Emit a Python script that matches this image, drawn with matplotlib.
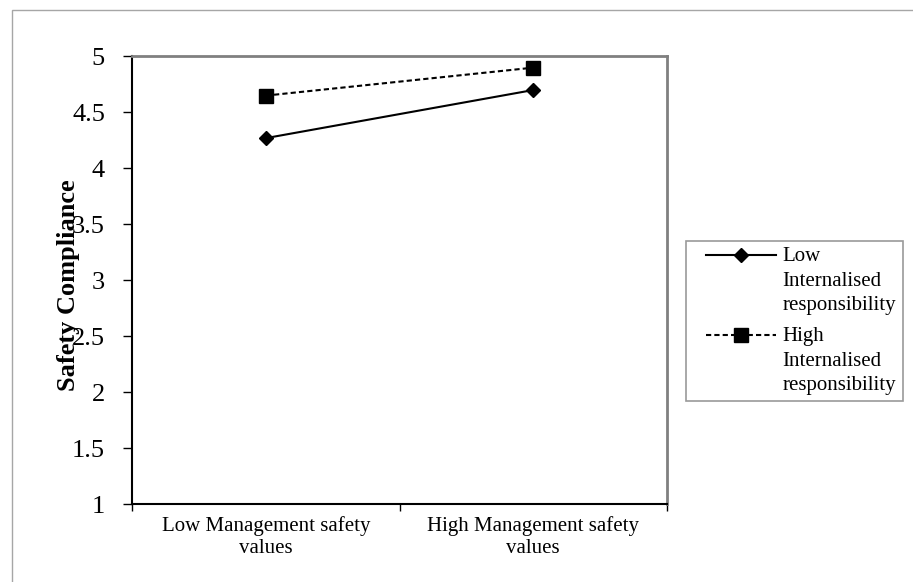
"""
Interaction plot: safety compliance
"""

import matplotlib
matplotlib.use("Agg")
import matplotlib.pyplot as plt
from matplotlib.patches import Rectangle
from matplotlib.legend_handler import HandlerLine2D

plt.rcParams['font.family'] = ['Liberation Serif', 'DejaVu Serif']

categories = ["Low Management safety\nvalues", "High Management safety\nvalues"]
series_names = ["Low\nInternalised\nresponsibility", "High\nInternalised\nresponsibility"]
low_ir = [4.27, 4.70]
high_ir = [4.65, 4.90]
y_ticks = [1, 1.5, 2, 2.5, 3, 3.5, 4, 4.5, 5]
y_tick_labels = ["1", "1.5", "2", "2.5", "3", "3.5", "4", "4.5", "5"]

#------------------------------------------------------------------------------

fig = plt.figure(figsize=(9.13, 5.82), dpi=100)
ax = fig.add_axes([0.1446, 0.134, 0.586, 0.769])

# outer chart border
fig.patches.append(Rectangle((12/913, -0.05), 1.2, 1 - 10/582 + 0.05,
                             transform=fig.transFigure, fill=False,
                             edgecolor='#a6a6a6', linewidth=1.0))

x = [0.5, 1.5]
l1, = ax.plot(x, low_ir, color='black', lw=1.5, marker='D', ms=7.5,
              label=series_names[0])
l2, = ax.plot(x, high_ir, color='black', lw=1.5, ls=(0, (2.5, 1.5)),
              marker='s', ms=10, label=series_names[1])

ax.set_xlim(0, 2)
ax.set_ylim(1, 5)
ax.set_yticks(y_ticks)
ax.set_yticklabels(y_tick_labels, fontsize=19)
ax.set_xticks([0, 1, 2])
ax.set_xticklabels([])
ax.set_xticks(x, minor=True)
ax.set_xticklabels(categories, minor=True, fontsize=15)
ax.tick_params(axis='x', which='minor', length=0, pad=9)
ax.tick_params(axis='x', which='major', length=5, width=1)
ax.tick_params(axis='y', length=6.5, width=1, pad=13)

for s in ['top', 'right']:
    ax.spines[s].set_color('#808080')
    ax.spines[s].set_linewidth(2)
for s in ['left', 'bottom']:
    ax.spines[s].set_color('black')
    ax.spines[s].set_linewidth(1.5)

ax.set_ylabel("Safety Compliance", fontsize=19, fontweight='bold')
ax.yaxis.set_label_coords(-0.097, 0.49)

hmap = {l1: HandlerLine2D(xpad=0.67), l2: HandlerLine2D(xpad=0.67)}
leg = ax.legend(loc='upper left', bbox_to_anchor=(686/913, 1 - 241/582),
                bbox_transform=fig.transFigure, fontsize=15, frameon=True,
                fancybox=False, edgecolor='#808080', borderpad=0.3,
                handlelength=4.0, handletextpad=0.34, labelspacing=0.6,
                borderaxespad=0, handler_map=hmap)
leg.get_frame().set_linewidth(1.2)
for t in leg.get_texts():
    t.set_linespacing(1.38)
# put each handle next to the first line of its label
for col in leg._legend_handle_box.get_children():
    for hp in col.get_children():
        hp.align = 'top'

fig.savefig("out.png", dpi=100)
